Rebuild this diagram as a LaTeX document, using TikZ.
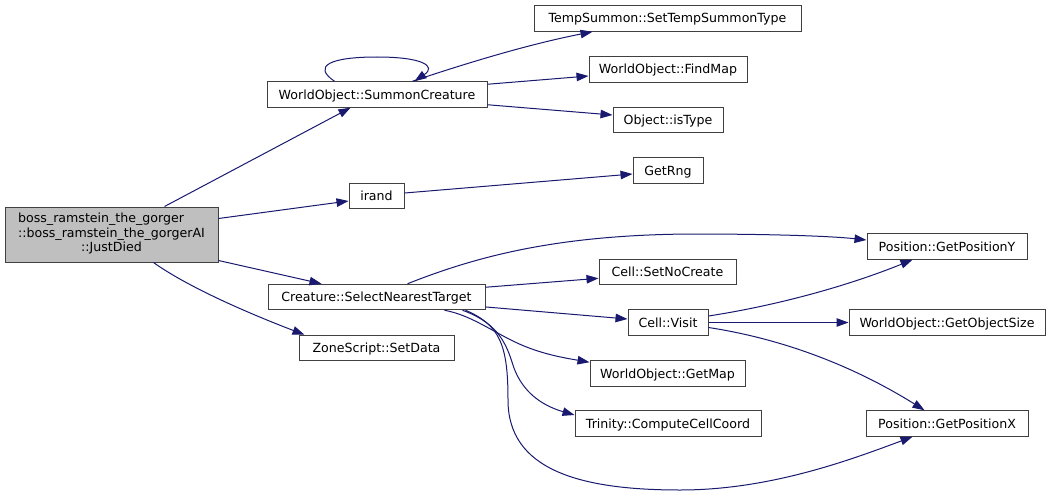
\documentclass[tikz,border=0pt]{standalone}
\usepackage{fontspec}
\setmainfont{DejaVu Sans}
\usetikzlibrary{arrows.meta,calc}
\definecolor{edgec}{HTML}{191970}
\definecolor{boxc}{HTML}{404040}
\definecolor{mainfill}{HTML}{BFBFBF}
\begin{document}
\begin{tikzpicture}[x=1pt,y=-1pt,
  fnbase/.style={draw=boxc, line width=1pt, inner sep=0pt, text=black,
    font=\fontsize{12.6}{14.5}\selectfont},
  fn/.style={fnbase, fill=white, minimum height=25.5pt, text height=9.5pt, text depth=0.5pt},
  edge/.style={draw=edgec, line width=1pt, -{Triangle[length=12pt,width=8.5pt]}}]
\useasboundingbox[fill=white] (0,0) rectangle (1051,495);

\node[fnbase, fill=mainfill, minimum width=213pt, minimum height=55pt] (main) at (111.5,234.5)
  {\begin{tabular}{@{}l@{}}boss\_ramstein\_the\_gorger\\::boss\_ramstein\_the\_gorgerAI\\\multicolumn{1}{@{}c@{}}{::JustDied}\end{tabular}};
\node[fn, minimum width=220pt] (sc) at (377,94.5) {WorldObject::SummonCreature};
\node[fn, minimum width=55pt] (irand) at (376.5,196) {irand};
\node[fn, minimum width=267pt] (tss) at (667.5,18.5) {TempSummon::SetTempSummonType};
\node[fn, minimum width=158pt] (fm) at (668,69.5) {WorldObject::FindMap};
\node[fn, minimum width=110pt] (ist) at (668,120) {Object::isType};
\node[fn, minimum width=70pt] (rng) at (668,170.5) {GetRng};
\node[fn, minimum width=217pt] (snt) at (376.5,297) {Creature::SelectNearestTarget};
\node[fn, minimum width=155pt] (zs) at (376.5,348) {ZoneScript::SetData};
\node[fn, minimum width=137pt] (snc) at (667.5,272) {Cell::SetNoCreate};
\node[fn, minimum width=80pt] (cv) at (668,322.5) {Cell::Visit};
\node[fn, minimum width=155pt] (gm) at (667.5,373.5) {WorldObject::GetMap};
\node[fn, minimum width=186pt] (ccc) at (668,423.5) {Trinity::ComputeCellCoord};
\node[fn, minimum width=160pt] (gpy) at (947,246.5) {Position::GetPositionY};
\node[fn, minimum width=196pt] (gos) at (947,322.5) {WorldObject::GetObjectSize};
\node[fn, minimum width=162pt] (gpx) at (947,423.5) {Position::GetPositionX};

% from main
\draw[edge] ($(main.north west)+(160,0)$) -- ($(sc.south west)+(84,0)$);
\draw[edge] ($(main.north east)+(0,12)$) -- ($(irand.west)+(0,5)$);
\draw[edge] ($(main.south east)+(0,-2)$) -- ($(snt.north west)+(54,0)$);
\draw[edge] ($(main.south west)+(149,0)$) .. controls (185,285) and (240,310) .. ($(zs.north west)+(6,0)$);

% from SummonCreature
\draw[edge] ($(sc.north west)+(68,0)$) .. controls (312,66) and (330,57) .. (377,57)
  .. controls (422,57) and (437,66) .. ($(sc.north west)+(148,0)$);
\draw[edge] ($(sc.north west)+(146,0)$) .. controls (470,62) and (530,44) .. ($(tss.south west)+(59,0)$);
\draw[edge] ($(sc.north east)+(0,3)$) -- ($(fm.west)+(0,6.5)$);
\draw[edge] ($(sc.south east)+(0,-3)$) -- ($(ist.west)+(0,-5)$);

% from irand
\draw[edge] ($(irand.east)+(0,-3)$) -- ($(rng.west)+(0,3.5)$);

% from SelectNearestTarget
\draw[edge] ($(snt.north west)+(140,0)$) .. controls (480,255) and (560,235) .. (690,234)
  .. controls (770,234) and (830,236) .. ($(gpy.west)+(0,-6.5)$);
\draw[edge] ($(snt.north east)+(0,3.5)$) -- ($(snc.west)+(0,6.3)$);
\draw[edge] ($(snt.south east)+(0,-3.3)$) -- ($(cv.west)+(0,-3.5)$);
\draw[edge] ($(snt.south west)+(177,0)$) .. controls (470,315) and (490,330) .. (515,342)
  .. controls (540,354) and (565,358) .. ($(gm.north west)+(0,2)$);
\draw[edge] ($(snt.south west)+(195,0)$) .. controls (495,322) and (505,340) .. (512,362)
  .. controls (520,390) and (540,405) .. ($(ccc.west)+(0,-8.5)$);
\draw[edge] ($(snt.south west)+(198,0)$) .. controls (500,325) and (508,345) .. (508,400)
  .. controls (508,470) and (580,490) .. (680,490)
  .. controls (770,490) and (850,460) .. ($(gpx.south west)+(47,0)$);

% from Cell::Visit
\draw[edge] ($(cv.east)+(0,-6.5)$) .. controls (780,305) and (850,285) .. ($(gpy.south west)+(46,0)$);
\draw[edge] (cv.east) -- (gos.west);
\draw[edge] ($(cv.east)+(0,5)$) .. controls (790,340) and (860,370) .. ($(gpx.north west)+(59,0)$);
\end{tikzpicture}
\end{document}
